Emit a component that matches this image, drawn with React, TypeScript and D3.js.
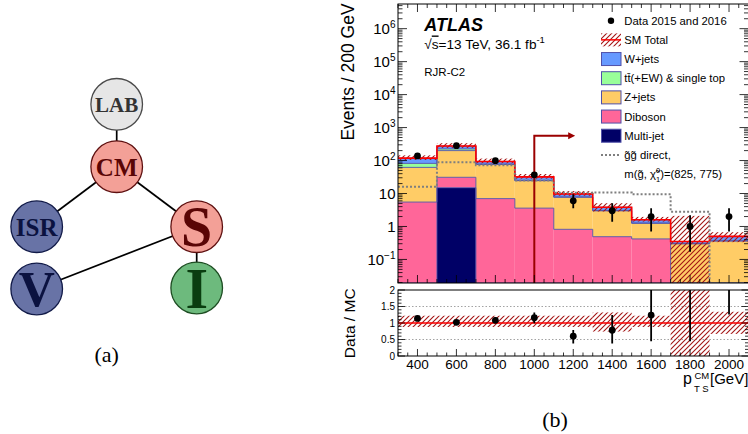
import React from "react";
import * as d3 from "d3";

// ---------- data ----------
const binEdges = [300, 500, 700, 900, 1100, 1300, 1500, 1700, 1900, 2100];
const multijet = [0, 15, 0, 0, 0, 0, 0, 0, 0];
const diboson = [5.5, 16, 7, 3.6, 0.82, 0.49, 0.42, 0, 0];
const zjets = [56.5, 169, 69, 20.9, 6.9, 2.5, 0.83, 0.3, 0.36];
const ttbar = [20, 25, 2, 0.5, 0.1, 0.05, 0.02, 0, 0.01];
const wjets = [36, 50, 16, 7, 1.9, 0.8, 0.33, 0.05, 0.13];
const smUncUp = [0.22, 0.22, 0.22, 0.22, 0.22, 0.32, 0.22, 5.0, 0.34];
const smUncDown = [0.12, 0.12, 0.12, 0.12, 0.12, 0.26, 0.12, 1.0, 0.33];
const signal = [16, 89, 72, 25, 10.5, 10.8, 9.5, 2.8, 0];
const dataX = [400, 600, 800, 1000, 1200, 1400, 1600, 1800, 2000];
const dataY = [138, 282, 99, 37, 6, 3, 2, 1, 2];
const dataLo = [127, 265, 89, 31, 3.6, 1.4, 0.7, 0.17, 0.7];
const dataHi = [150, 299, 109, 43, 9.5, 5.1, 3.57, 2.2, 3.57];
const ratio = [1.14, 1.02, 1.08, 1.16, 0.6, 0.78, 1.24, 2.9, 4.0];
const ratioLo = [1.06, 0.97, 0.99, 0.99, 0.38, 0.38, 0.45, 0.45, 1.26];
const ratioHi = [1.23, 1.08, 1.18, 1.32, 0.79, 1.24, 2.3, 6.3, 7.1];
const xTickLabels = [400, 600, 800, 1000, 1200, 1400, 1600, 1800, 2000];
const yDecades = [-1, 0, 1, 2, 3, 4, 5, 6];
const ratioTicks = [0, 0.5, 1, 1.5, 2];
const cutValue = 1000;
const arrowLevel = 560;
const arrowEnd = 1210;

const stackKeys = ["multijet", "diboson", "zjets", "ttbar", "wjets"];
const stackColors: Record<string, string> = {
  multijet: "#000066",
  diboson: "#ff6699",
  zjets: "#ffcc66",
  ttbar: "#99ff99",
  wjets: "#6699ff",
};
const legendEntries = [
  { label: "Data 2015 and 2016", kind: "data" },
  { label: "SM Total", kind: "band" },
  { label: "W+jets", kind: "wjets" },
  { label: "tt(+EW) & single top", kind: "ttbar" },
  { label: "Z+jets", kind: "zjets" },
  { label: "Diboson", kind: "diboson" },
  { label: "Multi-jet", kind: "multijet" },
  { label: "gg direct,", kind: "signal" },
  { label: "m", kind: "none" },
];

const treeNodes = [
  { id: "LAB", cx: 116.7, cy: 104.3, fill: "#e6e6e6", stroke: "#4a4a4a", text: "#333333", size: 21, dy: 7.5 },
  { id: "CM", cx: 116.7, cy: 166.7, fill: "#f3a097", stroke: "#5e1010", text: "#5a0505", size: 25, dy: 8.8 },
  { id: "ISR", cx: 36.7, cy: 226.7, fill: "#6873a6", stroke: "#111a48", text: "#0b1240", size: 25, dy: 8.8 },
  { id: "S", cx: 196.7, cy: 226.7, fill: "#f3a097", stroke: "#5e1010", text: "#5a0505", size: 56, dy: 19 },
  { id: "V", cx: 36.7, cy: 289, fill: "#6873a6", stroke: "#111a48", text: "#0b1240", size: 50, dy: 16.5 },
  { id: "I", cx: 196.7, cy: 288, fill: "#6dba7d", stroke: "#1d4d22", text: "#0a3d10", size: 58, dy: 20 },
];
const treeEdges = [
  ["LAB", "CM"],
  ["CM", "ISR"],
  ["CM", "S"],
  ["S", "V"],
  ["S", "I"],
];

export default function App() {
  const L = 398, R = 748.5, T = 4, B = 283, RT = 290, RB = 356;
  const xs = d3.scaleLinear().domain([binEdges[0], binEdges[binEdges.length - 1]]).range([L, R]);
  const yMin = 0.0193, yMax = 5.6e6;
  const ys = d3.scaleLog().domain([yMin, yMax]).range([B, T]);
  const yr = d3.scaleLinear().domain([0, 2]).range([RB, RT]);
  const cl = (v: number) => Math.max(v, yMin);
  const nb = binEdges.length - 1;

  const rows = d3.range(nb).map((i) => ({
    multijet: multijet[i], diboson: diboson[i], zjets: zjets[i], ttbar: ttbar[i], wjets: wjets[i],
  }));
  const series = d3.stack<any>().keys(stackKeys)(rows);
  const total = d3.range(nb).map((i) => multijet[i] + diboson[i] + zjets[i] + ttbar[i] + wjets[i]);

  const stepPath = (vals: number[], f: (v: number) => number) => {
    let d = "";
    vals.forEach((v, i) => {
      const x0 = xs(binEdges[i]), x1 = xs(binEdges[i + 1]);
      const y = f(v);
      d += (i === 0 ? `M${x0},${y}` : `L${x0},${y}`) + `L${x1},${y}`;
    });
    return d;
  };

  const font = "'Liberation Sans', Arial, Helvetica, sans-serif";
  const serif = "'Liberation Serif', 'Times New Roman', serif";

  const logMinor: number[] = [];
  for (let e = -2; e <= 6; e++) for (let m = 2; m <= 9; m++) {
    const v = m * Math.pow(10, e);
    if (v > yMin && v < yMax) logMinor.push(v);
  }
  const logMajor = yDecades.map((e) => Math.pow(10, e));
  const xMinor = d3.range(300, 2101, 50);
  const rMinor = d3.range(0, 2.001, 0.1);

  const nodeById: Record<string, any> = {};
  treeNodes.forEach((n) => (nodeById[n.id] = n));

  const legX = 601, legTextX = 624.3, legY0 = 20.7, legDy = 19.17;

  return (
    <svg width={748} height={434} style={{ position: "absolute", left: 0, top: 0, background: "#fff" }} fontFamily={font}>
      <defs>
        <pattern id="hatch" width="5" height="5" patternUnits="userSpaceOnUse">
          <path d="M-1,1 l2,-2 M0,5 l5,-5 M4,6 l2,-2" stroke="#a31515" strokeWidth="1.1" />
        </pattern>
        <clipPath id="clipTop"><rect x={L} y={T} width={R - L} height={B - T} /></clipPath>
        <clipPath id="clipRatio"><rect x={L} y={RT} width={R - L} height={RB - RT} /></clipPath>
      </defs>

      {/* ---------------- tree diagram (a) ---------------- */}
      <g>
        {treeEdges.map(([a, b], i) => (
          <line key={i} x1={nodeById[a].cx} y1={nodeById[a].cy} x2={nodeById[b].cx} y2={nodeById[b].cy} stroke="#000" strokeWidth={1.7} />
        ))}
        {treeNodes.map((n) => (
          <g key={n.id}>
            <circle cx={n.cx} cy={n.cy} r={25.8} fill={n.fill} stroke={n.stroke} strokeWidth={1.3} />
            <text x={n.cx} y={n.cy + n.dy} textAnchor="middle" fontFamily={serif} fontWeight="bold" fontSize={n.size} fill={n.text}>{n.id}</text>
          </g>
        ))}
        <text x={106.7} y={361.5} textAnchor="middle" fontFamily={serif} fontSize={22}>(a)</text>
      </g>

      {/* ---------------- main panel ---------------- */}
      <g clipPath="url(#clipTop)">
        {series.map((s: any) => (
          <g key={s.key}>
            {s.map((d: any, i: number) => (
              <rect key={i} x={xs(binEdges[i])} width={xs(binEdges[i + 1]) - xs(binEdges[i])}
                y={ys(cl(d[1]))} height={Math.max(0, ys(cl(d[0])) - ys(cl(d[1])))} fill={stackColors[s.key]} />
            ))}
          </g>
        ))}
        {series.map((s: any) => (
          <path key={"o" + s.key} d={stepPath(s.map((d: any) => d[1]), (v) => ys(cl(v)))} fill="none" stroke="#5050a8" strokeWidth={0.9} />
        ))}
        {total.map((t, i) => (
          <rect key={"b" + i} x={xs(binEdges[i])} width={xs(binEdges[i + 1]) - xs(binEdges[i])}
            y={ys(cl(t * (1 + smUncUp[i])))} height={ys(cl(t * (1 - smUncDown[i]))) - ys(cl(t * (1 + smUncUp[i])))} fill="url(#hatch)" />
        ))}
        <path d={stepPath(total, (v) => ys(cl(v)))} fill="none" stroke="#ff0000" strokeWidth={1.6} />
        <path d={stepPath(signal, (v) => ys(cl(v)))} fill="none" stroke="#7f7f7f" strokeWidth={2} strokeDasharray="2,2" />
        <path d={`M${xs(cutValue)},${B}L${xs(cutValue)},${ys(arrowLevel)}L${xs(arrowEnd) - 6},${ys(arrowLevel)}`} fill="none" stroke="#9b0000" strokeWidth={2} />
        <path d={`M${xs(arrowEnd)},${ys(arrowLevel)}l-7,-3.5l0,7z`} fill="#9b0000" />
        {dataX.map((x, i) => (
          <g key={"d" + i}>
            <line x1={xs(x)} x2={xs(x)} y1={ys(cl(dataLo[i]))} y2={ys(cl(dataHi[i]))} stroke="#000" strokeWidth={1.8} />
            <circle cx={xs(x)} cy={ys(dataY[i])} r={3.4} fill="#000" />
          </g>
        ))}
      </g>
      <rect x={L} y={T} width={R - L} height={B - T} fill="none" stroke="#000" strokeWidth={1} />
      {xMinor.map((v) => {
        const major = (v - 400) % 200 === 0;
        const len = major ? 8 : 4;
        return (
          <g key={"xt" + v}>
            <line x1={xs(v)} x2={xs(v)} y1={B} y2={B - len} stroke="#000" strokeWidth={0.8} />
            <line x1={xs(v)} x2={xs(v)} y1={T} y2={T + len} stroke="#000" strokeWidth={0.8} />
          </g>
        );
      })}
      {logMajor.map((v) => (
        <g key={"ym" + v}>
          <line x1={L} x2={L + 9} y1={ys(v)} y2={ys(v)} stroke="#000" strokeWidth={0.8} />
          <line x1={R} x2={R - 9} y1={ys(v)} y2={ys(v)} stroke="#000" strokeWidth={0.8} />
        </g>
      ))}
      {logMinor.map((v) => (
        <g key={"yn" + v}>
          <line x1={L} x2={L + 4.5} y1={ys(v)} y2={ys(v)} stroke="#000" strokeWidth={0.8} />
          <line x1={R} x2={R - 4.5} y1={ys(v)} y2={ys(v)} stroke="#000" strokeWidth={0.8} />
        </g>
      ))}
      {yDecades.map((e) => (
        <text key={"yl" + e} x={395.5} y={ys(Math.pow(10, e)) + 5.3} textAnchor="end" fontSize={15}>
          {e === 0 ? "1" : e === 1 ? "10" : (<>
            <tspan>10</tspan>
            <tspan fontSize={10} dy={-6}>{e < 0 ? "\u2212" + (-e) : String(e)}</tspan>
          </>)}
        </text>
      ))}
      <text transform={`translate(354,72) rotate(-90)`} textAnchor="middle" fontSize={17.5}>Events / 200 GeV</text>

      <text x={424.3} y={31} fontSize={18} fontWeight="bold" fontStyle="italic">ATLAS</text>
      <text x={424.3} y={48.5} fontSize={13.6}>
        <tspan>√</tspan><tspan textDecoration="overline">s</tspan><tspan>=13 TeV, 36.1 fb</tspan>
        <tspan fontSize={9.5} dy={-5.5}>-1</tspan>
      </text>
      <text x={424.3} y={75.5} fontSize={11.5}>RJR-C2</text>

      {legendEntries.map((e, i) => {
        const cy = legY0 + i * legDy;
        let sym: any = null;
        if (e.kind === "data") sym = <circle cx={611} cy={cy} r={3.2} fill="#000" />;
        else if (e.kind === "band") sym = (<g><rect x={legX} y={cy - 6.5} width={20} height={13} fill="url(#hatch)" /><line x1={legX} x2={legX + 20} y1={cy} y2={cy} stroke="#ff0000" strokeWidth={1.5} /></g>);
        else if (e.kind === "signal") sym = <line x1={legX} x2={legX + 20} y1={cy} y2={cy} stroke="#7f7f7f" strokeWidth={2} strokeDasharray="2,2" />;
        else if (e.kind !== "none") sym = <rect x={legX + 0.5} y={cy - 6.5} width={19.5} height={13} fill={stackColors[e.kind]} stroke="#5050a8" strokeWidth={1} />;
        let label: any = e.label;
        if (e.kind === "ttbar") label = (<><tspan>t</tspan><tspan>t{"\u0304"}</tspan><tspan>(+EW) &amp; single top</tspan></>);
        if (e.kind === "signal") label = (<><tspan>g{"\u0303"}g{"\u0303"} direct,</tspan></>);
        if (e.kind === "none") label = (<>
          <tspan>m(g{"\u0303"}, {"\u03c7\u0303"}</tspan>
          <tspan fontSize={7.5} dy={3.5}>1</tspan>
          <tspan fontSize={7.5} dx={-4.2} dy={-9}>0</tspan>
          <tspan dy={5.5}>)=(825, 775)</tspan>
        </>);
        return (
          <g key={"l" + i}>
            {sym}
            <text x={legTextX} y={cy + 4} fontSize={11.3}>{label}</text>
          </g>
        );
      })}

      {/* ---------------- ratio panel ---------------- */}
      {[0.5, 1, 1.5].map((v) => (
        <line key={"g" + v} x1={L} x2={R} y1={yr(v)} y2={yr(v)} stroke="#999" strokeWidth={0.9} strokeDasharray="1.5,2" />
      ))}
      <g clipPath="url(#clipRatio)">
        {d3.range(nb).map((i) => (
          <rect key={"rb" + i} x={xs(binEdges[i])} width={xs(binEdges[i + 1]) - xs(binEdges[i])}
            y={yr(1 + smUncUp[i])} height={yr(1 - smUncDown[i]) - yr(1 + smUncUp[i])} fill="url(#hatch)" />
        ))}
        <line x1={L} x2={R} y1={yr(1)} y2={yr(1)} stroke="#ff0000" strokeWidth={1.5} />
        {dataX.map((x, i) => (
          <g key={"r" + i}>
            <line x1={xs(x)} x2={xs(x)} y1={yr(ratioLo[i])} y2={yr(ratioHi[i])} stroke="#000" strokeWidth={1.8} />
            {ratio[i] <= 2 && <circle cx={xs(x)} cy={yr(ratio[i])} r={3.4} fill="#000" />}
          </g>
        ))}
      </g>
      <rect x={L} y={RT} width={R - L} height={RB - RT} fill="none" stroke="#000" strokeWidth={1} />
      {xMinor.map((v) => {
        const major = (v - 400) % 200 === 0;
        return <line key={"rx" + v} x1={xs(v)} x2={xs(v)} y1={RB} y2={RB - (major ? 7 : 3.5)} stroke="#000" strokeWidth={0.8} />;
      })}
      {rMinor.map((v) => {
        const major = Math.abs(v * 2 - Math.round(v * 2)) < 1e-6;
        const len = major ? 7 : 3.5;
        return (
          <g key={"ry" + v.toFixed(1)}>
            <line x1={L} x2={L + len} y1={yr(v)} y2={yr(v)} stroke="#000" strokeWidth={0.8} />
            <line x1={R} x2={R - len} y1={yr(v)} y2={yr(v)} stroke="#000" strokeWidth={0.8} />
          </g>
        );
      })}
      {ratioTicks.map((v) => (
        <text key={"rl" + v} x={395} y={yr(v) + 3.5} textAnchor="end" fontSize={10}>{String(v)}</text>
      ))}
      {xTickLabels.map((v) => (
        <text key={"xl" + v} x={xs(v)} y={368.5} textAnchor="middle" fontSize={13.5}>{String(v)}</text>
      ))}
      <text transform={`translate(355,323.3) rotate(-90)`} textAnchor="middle" fontSize={15.5}>Data / MC</text>
      <text x={683} y={383.5} fontSize={16}>p</text>
      <text x={694.5} y={379} fontSize={9.5}>CM</text>
      <text x={694} y={392} fontSize={9.5}>T S</text>
      <text x={710} y={383.5} fontSize={15}>[GeV]</text>

      <text x={555} y={426.5} textAnchor="middle" fontFamily={serif} fontSize={22}>(b)</text>
    </svg>
  );
}
